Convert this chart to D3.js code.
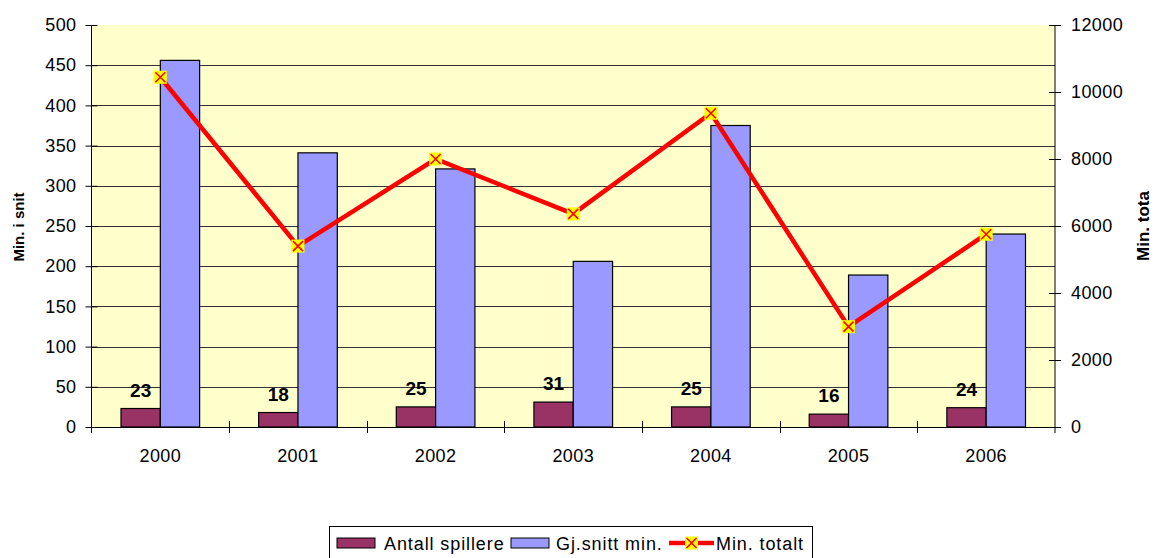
<!DOCTYPE html>
<html>
<head>
<meta charset="utf-8">
<script src="https://cdn.jsdelivr.net/npm/d3@7"></script>
<style>
  body { margin: 0; background: #fff; }
  svg { display: block; font-family: "Liberation Sans", Arial, sans-serif; }
</style>
</head>
<body>
<script>
var years = ["2000", "2001", "2002", "2003", "2004", "2005", "2006"];
var antallSpillere = [23, 18, 25, 31, 25, 16, 24];
var gjsnittMin = [456, 341, 321, 206, 375, 189, 240];
var minTotalt = [10440, 5400, 8000, 6360, 9365, 2995, 5755];
var leftTicks = [0, 50, 100, 150, 200, 250, 300, 350, 400, 450, 500];
var rightTicks = [0, 2000, 4000, 6000, 8000, 10000, 12000];

var width = 1159, height = 558;
var plot = { left: 91.5, right: 1055, top: 25, bottom: 427 };
var fs = 18, ls = "0.4px";

var svg = d3.select("body").append("svg")
    .attr("width", width)
    .attr("height", height);

var x = d3.scaleBand()
    .domain(years)
    .range([plot.left, plot.right]);

var bw = x.bandwidth() / 3.5;

var xSeries = d3.scaleBand()
    .domain(["antall", "snitt"])
    .range([-bw, bw]);

var yLeft = d3.scaleLinear().domain([0, 500]).range([plot.bottom, plot.top]);
var yRight = d3.scaleLinear().domain([0, 12000]).range([plot.bottom, plot.top]);

// plot background
svg.append("rect")
    .attr("x", plot.left)
    .attr("y", plot.top)
    .attr("width", plot.right - plot.left)
    .attr("height", plot.bottom - plot.top)
    .attr("fill", "#FFFFCC");

// gridlines
svg.append("g")
    .selectAll("line")
    .data(leftTicks.filter(function (d) { return d > 0 && d < 500; }))
    .enter().append("line")
    .attr("x1", plot.left)
    .attr("x2", plot.right)
    .attr("y1", function (d) { return Math.round(yLeft(d)) + 0.5; })
    .attr("y2", function (d) { return Math.round(yLeft(d)) + 0.5; })
    .attr("stroke", "#333")
    .attr("stroke-width", 1);

var rows = years.map(function (y, i) {
    return { year: y, antall: antallSpillere[i], snitt: gjsnittMin[i], total: minTotalt[i] };
});

var groups = svg.append("g")
    .selectAll("g")
    .data(rows)
    .enter().append("g")
    .attr("transform", function (d) { return "translate(" + (x(d.year) + x.bandwidth() / 2) + ",0)"; });

groups.append("rect")
    .attr("x", xSeries("antall"))
    .attr("width", xSeries.bandwidth())
    .attr("y", function (d) { return yLeft(d.antall); })
    .attr("height", function (d) { return yLeft(0) - yLeft(d.antall); })
    .attr("fill", "#993366")
    .attr("stroke", "#000")
    .attr("stroke-width", 1.2);

groups.append("rect")
    .attr("x", xSeries("snitt"))
    .attr("width", xSeries.bandwidth())
    .attr("y", function (d) { return yLeft(d.snitt); })
    .attr("height", function (d) { return yLeft(0) - yLeft(d.snitt); })
    .attr("fill", "#9999FF")
    .attr("stroke", "#000")
    .attr("stroke-width", 1.2);

groups.append("text")
    .attr("x", xSeries("antall") + xSeries.bandwidth() / 2)
    .attr("y", function (d) { return yLeft(d.antall) - 12; })
    .attr("text-anchor", "middle")
    .attr("font-size", 19)
    .attr("font-weight", "bold")
    .text(function (d) { return d.antall; });

// total line
var line = d3.line()
    .x(function (d) { return x(d.year) + x.bandwidth() / 2; })
    .y(function (d) { return yRight(d.total); });

svg.append("path")
    .datum(rows)
    .attr("d", line)
    .attr("fill", "none")
    .attr("stroke", "#FF0000")
    .attr("stroke-width", 4.5);

function drawMarker(g, cx, cy) {
    g.append("rect")
        .attr("x", cx - 6.5).attr("y", cy - 6.5)
        .attr("width", 13).attr("height", 13)
        .attr("fill", "#FFFF00");
    g.append("path")
        .attr("d", "M" + (cx - 5) + "," + (cy - 5) + "L" + (cx + 5) + "," + (cy + 5) +
            "M" + (cx + 5) + "," + (cy - 5) + "L" + (cx - 5) + "," + (cy + 5))
        .attr("stroke", "#FF0000")
        .attr("stroke-width", 1.6);
}

var markers = svg.append("g");
rows.forEach(function (d) {
    drawMarker(markers, x(d.year) + x.bandwidth() / 2, yRight(d.total));
});

// left axis
var leftAxis = svg.append("g")
    .attr("transform", "translate(" + plot.left + ",0)")
    .call(d3.axisLeft(yLeft).tickValues(leftTicks).tickSize(6).tickPadding(9));
leftAxis.select(".domain").remove();
leftAxis.append("line")
    .attr("y1", plot.top).attr("y2", plot.bottom + 6)
    .attr("stroke", "#000");
leftAxis.selectAll(".tick line").attr("x2", -6).attr("x1", 6).attr("stroke", "#000");
leftAxis.selectAll("text")
    .attr("font-size", fs)
    .attr("letter-spacing", ls)
    .attr("font-family", "Liberation Sans, Arial, sans-serif")
    .attr("fill", "#000");

// right axis
var rightAxis = svg.append("g")
    .attr("transform", "translate(" + plot.right + ",0)")
    .call(d3.axisRight(yRight).tickValues(rightTicks).tickSize(6).tickPadding(10).tickFormat(d3.format("d")));
rightAxis.select(".domain").remove();
rightAxis.append("line")
    .attr("y1", plot.top).attr("y2", plot.bottom + 6)
    .attr("stroke", "#000");
rightAxis.selectAll(".tick line").attr("x1", -6).attr("x2", 6).attr("stroke", "#000");
rightAxis.selectAll("text")
    .attr("font-size", fs)
    .attr("letter-spacing", ls)
    .attr("font-family", "Liberation Sans, Arial, sans-serif")
    .attr("fill", "#000");

// bottom axis
var bottom = svg.append("g");
bottom.append("line")
    .attr("x1", plot.left).attr("x2", plot.right)
    .attr("y1", plot.bottom + 0.5).attr("y2", plot.bottom + 0.5)
    .attr("stroke", "#000");
bottom.selectAll(".sep")
    .data(years.slice(1))
    .enter().append("line")
    .attr("x1", function (d) { return Math.round(x(d)) + 0.5; })
    .attr("x2", function (d) { return Math.round(x(d)) + 0.5; })
    .attr("y1", plot.bottom - 6).attr("y2", plot.bottom + 6)
    .attr("stroke", "#000");
bottom.selectAll(".lbl")
    .data(years)
    .enter().append("text")
    .attr("x", function (d) { return x(d) + x.bandwidth() / 2; })
    .attr("y", 462)
    .attr("text-anchor", "middle")
    .attr("font-size", fs)
    .attr("letter-spacing", ls)
    .text(function (d) { return d; });

// axis titles
svg.append("text")
    .attr("transform", "translate(24,227) rotate(-90)")
    .attr("text-anchor", "middle")
    .attr("font-size", 15)
    .attr("font-weight", "bold")
    .text("Min. i snit");

svg.append("text")
    .attr("transform", "translate(1149,226) rotate(-90)")
    .attr("text-anchor", "middle")
    .attr("font-size", 17)
    .attr("font-weight", "bold")
    .text("Min. tota");

// legend
var legend = svg.append("g");
legend.append("rect")
    .attr("x", 329.5).attr("y", 526.5)
    .attr("width", 483).attr("height", 40)
    .attr("fill", "#fff")
    .attr("stroke", "#000");

legend.append("rect")
    .attr("x", 337).attr("y", 538).attr("width", 38).attr("height", 10)
    .attr("fill", "#993366").attr("stroke", "#000");
legend.append("text")
    .attr("x", 384).attr("y", 550).attr("font-size", fs).attr("letter-spacing", "0.9px")
    .text("Antall spillere");

legend.append("rect")
    .attr("x", 511).attr("y", 538).attr("width", 38).attr("height", 10)
    .attr("fill", "#9999FF").attr("stroke", "#000");
legend.append("text")
    .attr("x", 556).attr("y", 550).attr("font-size", fs).attr("letter-spacing", "0.9px")
    .text("Gj.snitt min.");

legend.append("line")
    .attr("x1", 669).attr("x2", 714)
    .attr("y1", 543).attr("y2", 543)
    .attr("stroke", "#FF0000").attr("stroke-width", 4.5);
drawMarker(legend, 691.5, 543);
legend.append("text")
    .attr("x", 716).attr("y", 550).attr("font-size", fs).attr("letter-spacing", "0.9px")
    .text("Min. totalt");
</script>
</body>
</html>
